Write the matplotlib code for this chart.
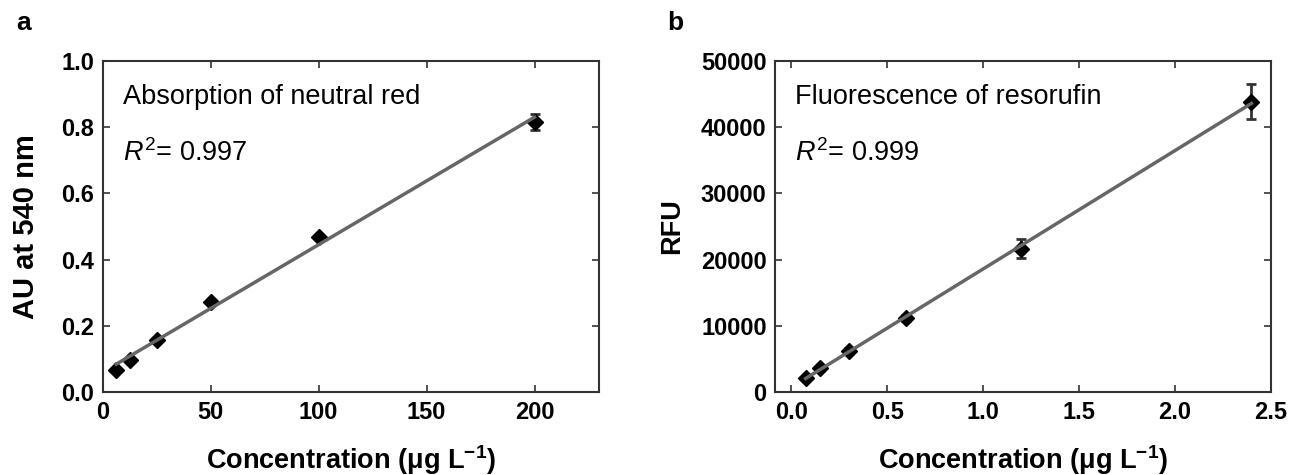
import numpy as np
import matplotlib
matplotlib.use('Agg')
import matplotlib.pyplot as plt
from matplotlib import font_manager

# pick a narrow sans if present, else plain Liberation Sans
names = {f.name for f in font_manager.fontManager.ttflist}
fam = 'Liberation Sans Narrow' if 'Liberation Sans Narrow' in names else 'Liberation Sans'
plt.rcParams['font.family'] = [fam, 'DejaVu Sans']
plt.rcParams['mathtext.fontset'] = 'custom'
plt.rcParams['mathtext.rm'] = fam
plt.rcParams['mathtext.it'] = fam + ':italic'
plt.rcParams['mathtext.bf'] = fam + ':bold'

# panel a: neutral red absorbance
conc_a = [6.25, 12.5, 25, 50, 100, 200]
abs_a = [0.068, 0.098, 0.159, 0.271, 0.468, 0.815]
err_a = [0.006, 0.006, 0.006, 0.006, 0.006, 0.025]
r2_a = '0.997'

# panel b: resorufin fluorescence
conc_b = [0.075, 0.15, 0.3, 0.6, 1.2, 2.4]
rfu_b = [2200, 3600, 6300, 11200, 21650, 43850]
err_b = [300, 350, 400, 450, 1440, 2700]
r2_b = '0.999'

spine_col = '#333333'
line_col = '#666666'


def draw_panel(ax, x, y, err, title, r2):
    ax.errorbar(x, y, yerr=err, fmt='D', color='black', markersize=8,
                ecolor='#333333', elinewidth=2, capsize=3.5, capthick=2, zorder=2)
    k, b = np.polyfit(x, y, 1)
    xs = np.array([min(x), max(x)])
    ax.plot(xs, k * xs + b, color=line_col, lw=2.5, zorder=3)
    ax.text(0.04, 0.891, title, transform=ax.transAxes, fontsize=19.5, va='center')
    ax.text(0.04, 0.722, r'$\it{R}^2$= ' + r2, transform=ax.transAxes, fontsize=19.5, va='center')
    ax.tick_params(direction='in', top=True, right=True, length=5, width=1.2,
                   colors=spine_col, labelcolor='black', labelsize=17, pad=6)
    for lab in ax.get_xticklabels() + ax.get_yticklabels():
        lab.set_fontweight('bold')
    for s in ax.spines.values():
        s.set_color(spine_col)
        s.set_linewidth(1.5)


fig = plt.figure(figsize=(13.04, 4.75), dpi=100)
ax1 = fig.add_axes([0.0788, 0.1741, 0.3808, 0.698])
ax2 = fig.add_axes([0.5943, 0.1741, 0.3801, 0.698])

ax1.set_xlim(0, 230)
ax1.set_ylim(0, 1.0)
ax1.set_xticks([0, 50, 100, 150, 200])
ax1.set_yticks(np.arange(0, 1.01, 0.2))
ax1.yaxis.set_major_formatter(matplotlib.ticker.FormatStrFormatter('%.1f'))
draw_panel(ax1, conc_a, abs_a, err_a, 'Absorption of neutral red', r2_a)
ax1.set_ylabel('AU at 540 nm', fontsize=21, fontweight='bold', labelpad=15.5)
ax1.set_xlabel(r'Concentration (μg L$^{\mathbf{-1}}$)', fontsize=19.5, fontweight='bold', labelpad=14)

ax2.set_xlim(-0.085, 2.5)
ax2.set_ylim(0, 50000)
ax2.set_xticks([0, 0.5, 1.0, 1.5, 2.0, 2.5])
ax2.set_yticks(np.arange(0, 50001, 10000))
ax2.xaxis.set_major_formatter(matplotlib.ticker.FormatStrFormatter('%.1f'))
draw_panel(ax2, conc_b, rfu_b, err_b, 'Fluorescence of resorufin', r2_b)
ax2.set_ylabel('RFU', fontsize=19.5, fontweight='bold', labelpad=11)
ax2.set_xlabel(r'Concentration (μg L$^{\mathbf{-1}}$)', fontsize=19.5, fontweight='bold', labelpad=14)

fig.text(16 / 1304, 1 - 23 / 475, 'a', fontsize=19, fontweight='bold', va='center')
fig.text(667 / 1304, 1 - 23 / 475, 'b', fontsize=19, fontweight='bold', va='center')

fig.savefig('out.png', dpi=100)
